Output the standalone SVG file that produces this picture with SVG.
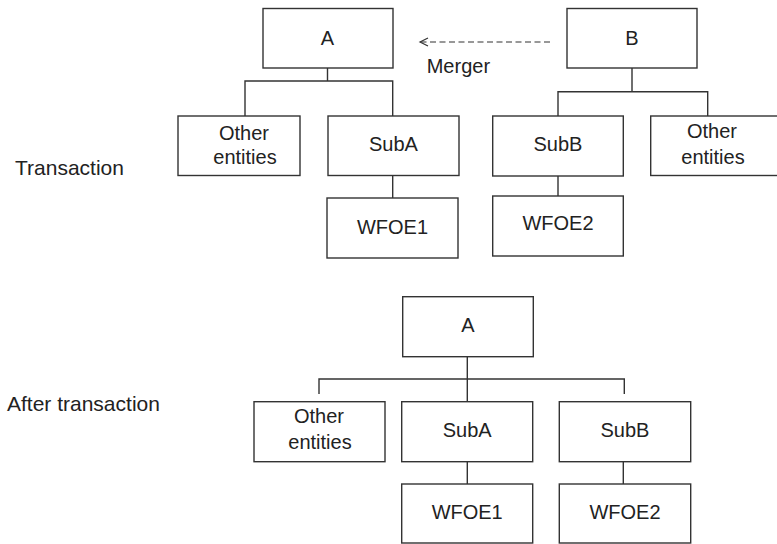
<svg xmlns="http://www.w3.org/2000/svg" width="777" height="544" viewBox="0 0 777 544">
  <style>
    .box { fill: #fff; stroke: #333; stroke-width: 1.4; }
    .wire { fill: none; stroke: #333; stroke-width: 1.4; }
    .dash { fill: none; stroke: #333; stroke-width: 1.2; stroke-dasharray: 6 3.5; }
    text { font-family: "Liberation Sans", Arial, sans-serif; font-size: 20px; fill: #222; }
    .c { text-anchor: middle; }
    .lbl { font-size: 21px; }
  </style>
  <defs>
    <marker id="openArrow" markerWidth="12" markerHeight="12" refX="9" refY="5" orient="auto" markerUnits="userSpaceOnUse">
      <path d="M1,1 L9,5 L1,9" fill="none" stroke="#333" stroke-width="1.2"/>
    </marker>
  </defs>
  <rect width="777" height="544" fill="#fff"/>

  <!-- section labels -->
  <text class="lbl" x="15" y="175">Transaction</text>
  <text class="lbl" x="7" y="411">After transaction</text>

  <!-- connectors -->
  <g id="connectors">
    <!-- before: A group -->
    <path class="wire" d="M327.5,68 V81 M245,116 V81 H392.7 V116 M392.7,175.5 V198"/>
    <!-- before: B group -->
    <path class="wire" d="M632,68 V91.7 M558,116 V91.7 H707.7 V116 M558,176 V196"/>
    <!-- merger arrow -->
    <path class="dash" d="M550,42 H420" marker-end="url(#openArrow)"/>
    <text x="426.7" y="73.3">Merger</text>
    <!-- after -->
    <path class="wire" d="M467.3,356.7 V401.7 M319,394 V379 H624.3 V394 M467.3,461.7 V484 M623.3,461.7 V484"/>
  </g>

  <!-- before transaction -->
  <g id="A1"><rect class="box" x="263" y="8.5" width="130" height="59.5"/><text class="c" x="327.5" y="44.5">A</text></g>
  <g id="B1"><rect class="box" x="567" y="8.5" width="130" height="59.5"/><text class="c" x="632" y="44.5">B</text></g>
  <g id="Other1"><rect class="box" x="178" y="116" width="122" height="59.5"/><text class="c" x="244" y="140">Other</text><text class="c" x="245" y="164">entities</text></g>
  <g id="SubA1"><rect class="box" x="328" y="116" width="131" height="59.5"/><text class="c" x="393.5" y="150.7">SubA</text></g>
  <g id="WFOE1a"><rect class="box" x="327" y="198" width="131" height="60"/><text class="c" x="392.5" y="233.5">WFOE1</text></g>
  <g id="SubB1"><rect class="box" x="492.7" y="116" width="130.6" height="60"/><text class="c" x="558" y="150.7">SubB</text></g>
  <g id="WFOE2a"><rect class="box" x="492.7" y="196" width="130.6" height="60"/><text class="c" x="558" y="230">WFOE2</text></g>
  <g id="Other2"><rect class="box" x="650.7" y="116" width="131" height="59.5"/><text class="c" x="712" y="137.5">Other</text><text class="c" x="713" y="163.5">entities</text></g>

  <!-- after transaction -->
  <g id="A2"><rect class="box" x="402.7" y="296.7" width="130.6" height="60"/><text class="c" x="468" y="331.7">A</text></g>
  <g id="Other3"><rect class="box" x="254" y="401.7" width="131" height="60"/><text class="c" x="319" y="423.3">Other</text><text class="c" x="320" y="449.3">entities</text></g>
  <g id="SubA2"><rect class="box" x="401.7" y="401.7" width="131" height="60"/><text class="c" x="467.2" y="436.7">SubA</text></g>
  <g id="SubB2"><rect class="box" x="559.3" y="401.7" width="131.4" height="60"/><text class="c" x="625" y="436.7">SubB</text></g>
  <g id="WFOE1b"><rect class="box" x="401.7" y="484" width="131" height="59"/><text class="c" x="467.2" y="519.3">WFOE1</text></g>
  <g id="WFOE2b"><rect class="box" x="559.3" y="484" width="131.4" height="59"/><text class="c" x="625" y="519.3">WFOE2</text></g>
</svg>
